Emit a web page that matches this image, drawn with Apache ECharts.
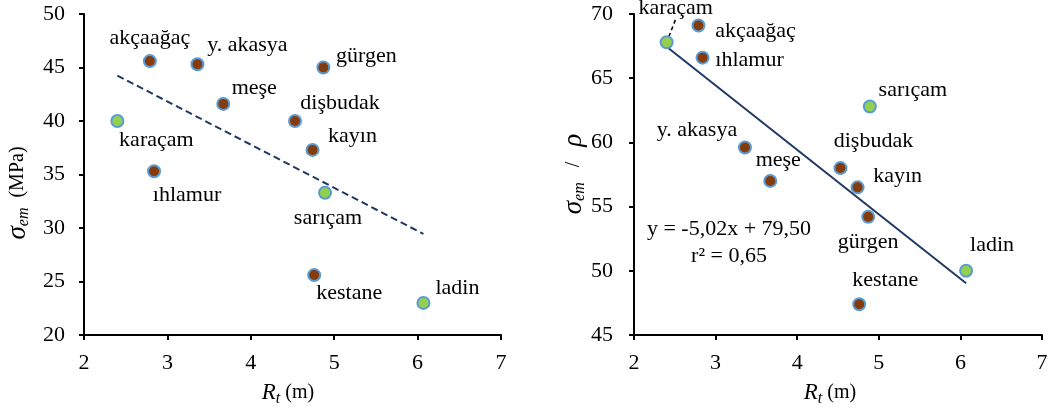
<!DOCTYPE html>
<html>
<head>
<meta charset="utf-8">
<script src="https://cdn.jsdelivr.net/npm/echarts@6/dist/echarts.min.js"></script>
<style>
  html, body { margin: 0; padding: 0; background: #fff; }
  #chart { width: 1059px; height: 411px; }
</style>
</head>
<body>
<div id="chart"></div>
<script>
// Wood species, their tree radius R_t (m), bending strength and strength/density
const species = ['akçaağaç', 'y. akasya', 'gürgen', 'meşe', 'karaçam', 'dişbudak', 'kayın', 'ıhlamur', 'sarıçam', 'kestane', 'ladin'];
const rt = [2.79, 3.36, 4.87, 3.67, 2.40, 4.53, 4.74, 2.84, 4.89, 4.76, 6.07];
const strength = [45.6, 45.3, 45.0, 41.6, 40.0, 40.0, 37.3, 35.3, 33.3, 25.6, 23.0];
const specificStrength = [69.1, 59.6, 54.2, 57.0, 67.8, 58.0, 56.5, 66.6, 62.8, 47.4, 50.0];
const conifers = ['karaçam', 'sarıçam', 'ladin'];

// Fit reported for the right-hand panel
const fitSlope = -5.02;
const fitIntercept = 79.50;
const fitR2 = 0.65;

// Axis ranges
const xTicks = [2, 7, 1];
const yTicksLeft = [20, 50, 5];
const yTicksRight = [45, 70, 5];

const FONT = '"Liberation Serif", "Times New Roman", serif';
const BROWN = '#843C0C';
const GREEN = '#92D050';
const EDGE = '#5B9BD5';
const NAVY = '#1F3864';

// Label placement relative to each marker centre (px)
const labelShiftLeft = {
  'akçaağaç': [0, -23], 'y. akasya': [50, -19], 'gürgen': [43, -11], 'meşe': [31, -16],
  'karaçam': [39, 19], 'dişbudak': [45, -18], 'kayın': [40, -14], 'ıhlamur': [33, 24],
  'sarıçam': [3, 26], 'kestane': [35, 18], 'ladin': [34, -15]
};
const labelShiftRight = {
  'akçaağaç': [57, 6], 'y. akasya': [-48, -17], 'gürgen': [0, 25], 'meşe': [8, -21],
  'karaçam': [9, -34], 'dişbudak': [33, -27], 'kayın': [40, -11], 'ıhlamur': [47, 3],
  'sarıçam': [43, -16], 'kestane': [26, -24], 'ladin': [26, -26]
};

function points(yValues, withLeader) {
  return species.map((name, i) => {
    const item = {
      name: name,
      value: [rt[i], yValues[i]],
      itemStyle: { color: conifers.includes(name) ? GREEN : BROWN }
    };
    if (withLeader && name === 'karaçam') {
      item.labelLine = { show: true, lineStyle: { color: '#000', width: 1.5, type: [4, 3] } };
    }
    return item;
  });
}

// Least-squares line through the strength values
function leastSquares(xs, ys) {
  const n = xs.length;
  const mx = xs.reduce((a, b) => a + b, 0) / n;
  const my = ys.reduce((a, b) => a + b, 0) / n;
  let sxy = 0, sxx = 0;
  for (let i = 0; i < n; i++) {
    sxy += (xs[i] - mx) * (ys[i] - my);
    sxx += (xs[i] - mx) * (xs[i] - mx);
  }
  const b = sxy / sxx;
  return { slope: b, intercept: my - b * mx };
}

const xMin = Math.min(...rt);
const xMax = Math.max(...rt);
const leftFit = leastSquares(rt, strength);
const leftLine = [[xMin, leftFit.intercept + leftFit.slope * xMin], [xMax, leftFit.intercept + leftFit.slope * xMax]];
const rightLine = [[xMin, fitIntercept + fitSlope * xMin], [xMax, fitIntercept + fitSlope * xMax]];

const fmt = v => v.toFixed(2).replace('.', ',');
const eqText = 'y = ' + fmt(fitSlope) + 'x + ' + fmt(fitIntercept) + '\nr² = ' + fmt(fitR2);

function xAxis(gridIndex) {
  return {
    type: 'value', gridIndex: gridIndex,
    min: xTicks[0], max: xTicks[1], interval: xTicks[2],
    axisLine: { show: true, onZero: false, lineStyle: { color: '#000', width: 2 } },
    axisTick: { show: true, length: 5, lineStyle: { color: '#000', width: 2 } },
    splitLine: { show: false },
    axisLabel: { color: '#000', fontFamily: FONT, fontSize: 22, margin: 17 }
  };
}
function yAxis(gridIndex, t, margin) {
  return {
    type: 'value', gridIndex: gridIndex,
    min: t[0], max: t[1], interval: t[2],
    axisLine: { show: true, onZero: false, lineStyle: { color: '#000', width: 2 } },
    axisTick: { show: true, length: 5, lineStyle: { color: '#000', width: 2 } },
    splitLine: { show: false },
    axisLabel: { color: '#000', fontFamily: FONT, fontSize: 22, margin: margin }
  };
}

function scatter(idx, yValues, shifts, withLeader) {
  return {
    type: 'scatter', xAxisIndex: idx, yAxisIndex: idx, z: 5,
    data: points(yValues, withLeader),
    symbolSize: 12,
    itemStyle: { borderColor: EDGE, borderWidth: 2, opacity: 1 },
    label: {
      show: true, position: 'inside', formatter: '{b}',
      color: '#000', fontFamily: FONT, fontSize: 22
    },
    labelLayout: function (p) {
      const s = shifts[species[p.dataIndex]];
      return { dx: s[0], dy: s[1] };
    },
    emphasis: { disabled: true }
  };
}

const subStyle = { fontFamily: FONT, fontSize: 16, fontStyle: 'italic', color: '#000', verticalAlign: 'bottom', padding: [11, 0, 0, 0] };
const bigItalic = { fontFamily: FONT, fontSize: 27, fontStyle: 'italic', color: '#000' };
const plain = { fontFamily: FONT, fontSize: 20, color: '#000' };

const option = {
  backgroundColor: '#fff',
  animation: false,
  grid: [
    { left: 84, top: 14, width: 417, height: 321 },
    { left: 634, top: 14, width: 408, height: 321 }
  ],
  xAxis: [xAxis(0), xAxis(1)],
  yAxis: [yAxis(0, yTicksLeft, 19), yAxis(1, yTicksRight, 21)],
  series: [
    {
      type: 'line', xAxisIndex: 0, yAxisIndex: 0, data: leftLine, symbol: 'none', z: 2,
      lineStyle: { color: NAVY, width: 2, type: [7, 4] }, silent: true
    },
    {
      type: 'line', xAxisIndex: 1, yAxisIndex: 1, data: rightLine, symbol: 'none', z: 2,
      lineStyle: { color: NAVY, width: 2 }, silent: true
    },
    scatter(0, strength, labelShiftLeft, false),
    scatter(1, specificStrength, labelShiftRight, true)
  ],
  graphic: [
    {
      type: 'text', x: 18, y: 193, rotation: Math.PI / 2,
      style: {
        text: '{s|σ}{sub|em}{n|  (MPa)}',
        align: 'center', verticalAlign: 'middle',
        rich: { s: bigItalic, sub: subStyle, n: plain }
      }
    },
    {
      type: 'text', x: 574, y: 174, rotation: Math.PI / 2,
      style: {
        text: '{s|σ}{sub|em}{n|   /   }{s|ρ}',
        align: 'center', verticalAlign: 'middle',
        rich: { s: bigItalic, sub: subStyle, n: { fontFamily: FONT, fontSize: 20, color: '#000' } }
      }
    },
    {
      type: 'text', x: 288, y: 393,
      style: {
        text: '{s|R}{sub|t}{n| (m)}',
        align: 'center', verticalAlign: 'middle',
        rich: { s: { fontFamily: FONT, fontSize: 23, fontStyle: 'italic', color: '#000' }, sub: subStyle, n: plain }
      }
    },
    {
      type: 'text', x: 830, y: 393,
      style: {
        text: '{s|R}{sub|t}{n| (m)}',
        align: 'center', verticalAlign: 'middle',
        rich: { s: { fontFamily: FONT, fontSize: 23, fontStyle: 'italic', color: '#000' }, sub: subStyle, n: plain }
      }
    },
    {
      type: 'text', x: 729, y: 243,
      style: {
        text: eqText, align: 'center', verticalAlign: 'middle',
        fontFamily: FONT, fontSize: 22, lineHeight: 27, fill: '#000'
      }
    }
  ]
};

const chart = echarts.init(document.getElementById('chart'), null, { renderer: 'canvas' });
chart.setOption(option);
</script>
</body>
</html>
